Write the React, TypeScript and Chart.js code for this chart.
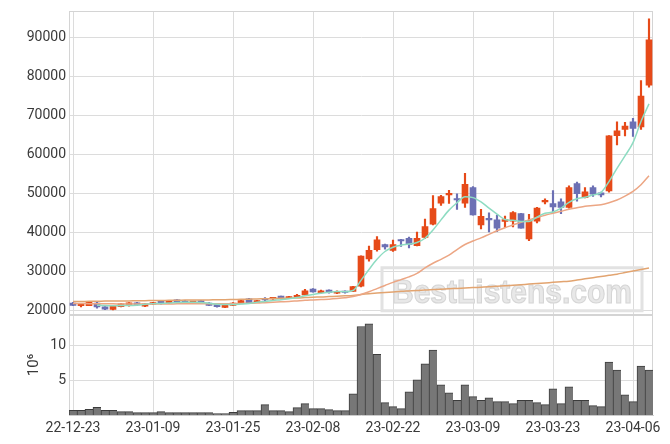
import React, { useEffect, useRef } from 'react';
import { Chart, registerables } from 'chart.js';

Chart.register(...registerables);

const dates = ['22-12-23','22-12-26','22-12-27','22-12-28','22-12-29','23-01-02','23-01-03','23-01-04','23-01-05','23-01-06','23-01-09','23-01-10','23-01-11','23-01-12','23-01-13','23-01-16','23-01-17','23-01-18','23-01-19','23-01-20','23-01-25','23-01-26','23-01-27','23-01-30','23-01-31','23-02-01','23-02-02','23-02-03','23-02-06','23-02-07','23-02-08','23-02-09','23-02-10','23-02-13','23-02-14','23-02-15','23-02-16','23-02-17','23-02-20','23-02-21','23-02-22','23-02-23','23-02-24','23-02-27','23-02-28','23-03-02','23-03-03','23-03-06','23-03-07','23-03-08','23-03-09','23-03-10','23-03-13','23-03-14','23-03-15','23-03-16','23-03-17','23-03-20','23-03-21','23-03-22','23-03-23','23-03-24','23-03-27','23-03-28','23-03-29','23-03-30','23-03-31','23-04-03','23-04-04','23-04-05','23-04-06','23-04-07','23-04-10'];

const opens = [
  22000,21300,21350,22000,21000,20350,21100,21300,22050,21200,
  21700,22300,22000,22800,22500,22100,22550,22000,21600,20850,
  21400,22050,23100,22150,23000,23050,23700,23300,23400,24100,
  25600,24650,25300,24500,25000,25000,26350,33300,35700,37000,
  35500,38200,38600,36700,38800,42200,47600,49700,48700,47600,
  51600,42000,43500,43300,42900,43000,44900,38400,43000,47900,
  47500,47900,46500,52600,49000,51600,50200,50700,64900,66500,
  68400,67100,77800];

const highs = [
  22150,21700,22400,22300,21100,21400,21900,22100,22150,21900,
  22200,22650,22600,22900,22600,22400,22600,22100,21700,21750,
  22100,22900,23200,22700,23400,23400,23800,23700,24200,25500,
  25700,25300,25400,25100,25100,26300,34100,36600,39000,37100,
  38100,38300,38900,40200,43500,49500,49600,50900,50000,55200,
  51800,46000,45100,44500,44300,45400,45000,44700,46500,48700,
  50800,48700,52000,53000,51600,52000,50400,64900,68400,68300,
  69300,79000,94800];

const lows = [
  21300,21000,21300,20700,20300,20250,21000,21200,21400,21100,
  21600,21700,21900,22250,21850,21950,21900,21300,20950,20800,
  21300,22000,21900,22100,22200,22950,23200,23200,23350,24000,
  24800,24550,24500,24400,24500,24900,26100,32700,35300,35800,
  35200,36500,36100,36600,38500,42000,47000,47500,46000,46500,
  44500,41000,40200,40300,41400,41500,41200,38000,42500,47400,
  45200,44900,46300,48100,48900,49300,49200,50400,62500,64800,
  64700,66500,77300];

const closes = [
  21400,21500,22300,21000,20400,21350,21800,22050,21500,21800,
  22100,22100,22500,22300,21900,22250,21950,21400,21100,21700,
  22000,22600,22000,22600,22800,23300,23400,23600,24000,25100,
  24850,25100,24700,25000,24700,26200,34000,35500,38200,36400,
  37000,37900,37000,38600,41600,46200,49300,50000,48400,52400,
  44600,44200,43300,41200,43400,45200,41200,43200,46300,48200,
  46600,46500,51600,50000,50500,49900,49700,64800,66100,67300,
  66700,75000,89400];

// volume in millions
const volumes = [
  0.71,0.71,0.86,1.14,0.71,0.71,0.52,0.52,0.38,0.38,
  0.38,0.52,0.38,0.38,0.38,0.38,0.38,0.38,0.24,0.24,
  0.43,0.67,0.67,0.67,1.52,0.67,0.67,0.52,1.1,1.67,
  0.95,0.95,0.81,0.67,0.67,3.1,12.8,13.2,8.8,1.81,
  1.24,0.95,3.38,5.1,7.4,9.4,4.38,3.24,2.14,4.38,
  2.67,2.14,2.52,1.95,1.95,1.67,2.14,2.14,1.81,1.52,
  3.81,1.67,4.1,2.14,2.14,1.38,1.24,7.67,6.52,2.95,
  1.95,7.1,6.52];

const ma5 = [
  null,null,null,21450,21350,21300,21350,21350,21450,21700,
  21850,21900,22000,22150,22200,22200,22150,21950,21700,21650,
  21650,21750,21900,22200,22400,22650,22850,23100,23400,23850,
  24200,24500,24750,24950,24900,25200,27800,30600,33200,35200,
  36300,36800,37100,37500,38600,40700,43300,45800,47700,49200,
  49000,47900,46300,44800,43400,43200,42900,42900,44000,45000,
  45300,46300,47800,48700,49100,49700,50300,53100,56500,59700,
  63100,68500,73000];

const ma20 = [
  21900,21900,21850,21850,21800,21800,21750,21750,21750,21750,
  21750,21750,21750,21800,21800,21800,21800,21800,21800,21800,
  21850,21900,21950,22000,22100,22200,22300,22400,22550,22700,
  22800,22900,23000,23150,23350,23650,24200,24900,25700,26500,
  27300,28000,28700,29600,31000,32200,33200,34300,35700,37000,
  37900,38700,39600,40500,41300,42000,42700,43300,43900,44500,
  45000,45500,46000,46400,46800,47000,47200,47700,48400,49400,
  50600,52300,54600];

const ma60 = [
  22400,22400,22450,22450,22500,22500,22550,22550,22600,22600,
  22650,22650,22700,22700,22750,22750,22800,22800,22850,22850,
  22900,22950,23000,23050,23100,23150,23200,23250,23300,23400,
  23500,23550,23650,23750,23850,23950,24200,24400,24550,24700,
  24850,25000,25100,25200,25350,25450,25550,25650,25750,25850,
  25950,26050,26150,26300,26400,26550,26700,26850,27000,27150,
  27300,27450,27600,27900,28200,28500,28800,29100,29400,29800,
  30200,30600,31000];

const priceTicks = [20000, 30000, 40000, 50000, 60000, 70000, 80000, 90000];
const volumeTitle = '10⁶';
const watermarkText = 'BestListens.com';

const UP = '#e64a19';
const DOWN = '#6c70b4';
const GRID = '#dcdcdc';
const TICK_FONT = { family: 'Roboto', size: 14 };
const TICK_COLOR = '#3a3a3a';

export default function App() {
  const ref = useRef<HTMLCanvasElement>(null);

  useEffect(() => {
    const canvas = ref.current;
    if (!canvas) return;
    const colors = opens.map((o, i) => (closes[i] >= o ? UP : DOWN));

    const framePlugin = {
      id: 'frameAndWatermark',
      beforeDatasetsDraw(chart: any) {
        const { ctx, chartArea, scales } = chart;
        const y = scales.y;
        const yv = scales.yv;
        ctx.save();
        // watermark
        const bx = chartArea.right - 271;
        const by = y.getPixelForValue(20000) - 43;
        const bw = 260;
        const bh = 43;
        ctx.strokeStyle = '#e2e2e2';
        ctx.lineWidth = 3;
        ctx.beginPath();
        ctx.rect(bx, by, bw, bh);
        ctx.stroke();
        ctx.font = 'bold 34px "Liberation Sans"';
        const m = ctx.measureText(watermarkText).width;
        const target = 240;
        ctx.translate(bx + 10, by + 35);
        ctx.scale(target / m, 1);
        ctx.fillStyle = '#e8e8e8';
        ctx.strokeStyle = '#d6d6d6';
        ctx.lineWidth = 1.2;
        ctx.fillText(watermarkText, 0, 0);
        ctx.strokeText(watermarkText, 0, 0);
        ctx.restore();

        ctx.save();
        ctx.strokeStyle = '#d4d4d4';
        ctx.lineWidth = 1;
        const l = Math.round(chartArea.left) + 0.5;
        const r = Math.round(chartArea.right) - 0.5;
        [y, yv].forEach((s: any) => {
          const t = Math.round(s.top) + 0.5;
          const b = Math.round(s.bottom) - 0.5;
          ctx.strokeRect(l, t, r - l, b - t);
        });
        ctx.restore();
      },
    };

    const chart = new Chart(canvas, {
      type: 'bar',
      data: {
        labels: dates,
        datasets: [
          { type: 'line', label: 'MA5', data: ma5 as any, borderColor: '#8edcc2', borderWidth: 1.5, pointRadius: 0, cubicInterpolationMode: 'monotone', yAxisID: 'y', order: 0 } as any,
          { type: 'line', label: 'MA20', data: ma20, borderColor: '#eca684', borderWidth: 1.5, pointRadius: 0, cubicInterpolationMode: 'monotone', yAxisID: 'y', order: 0 } as any,
          { type: 'line', label: 'MA60', data: ma60, borderColor: '#e2a470', borderWidth: 1.5, pointRadius: 0, cubicInterpolationMode: 'monotone', yAxisID: 'y', order: 0 } as any,
          { type: 'bar', label: 'body', data: opens.map((o, i) => [o, closes[i]]), backgroundColor: colors, barThickness: 6, minBarLength: 1.5, grouped: false, yAxisID: 'y', order: 1 } as any,
          { type: 'bar', label: 'wick', data: lows.map((lo, i) => [lo, highs[i]]), backgroundColor: colors, barThickness: 1.5, grouped: false, yAxisID: 'y', order: 2 } as any,
          { type: 'bar', label: 'volume', data: volumes, backgroundColor: '#777777', borderColor: '#3c3c3c', borderWidth: { top: 1, left: 1, right: 0, bottom: 0 }, borderSkipped: false, barPercentage: 1, categoryPercentage: 1, grouped: false, yAxisID: 'yv', order: 3 } as any,
        ],
      },
      options: {
        responsive: false,
        animation: false,
        layout: { padding: { left: 9, top: 8, right: 17, bottom: 2 } },
        plugins: { legend: { display: false }, tooltip: { enabled: false } },
        scales: {
          x: {
            type: 'category',
            offset: true,
            grid: { offset: false, color: GRID, drawTicks: false },
            border: { color: '#cfcfcf' },
            ticks: {
              autoSkip: false,
              maxRotation: 0,
              padding: 5,
              font: TICK_FONT,
              color: TICK_COLOR,
              callback: (_v: any, i: number) => (i % 10 === 0 ? dates[i] : null),
            },
          },
          yv: {
            type: 'linear',
            position: 'left',
            stack: 'panes',
            stackWeight: 1,
            min: 0,
            max: 14.5,
            grid: { color: GRID, drawTicks: false },
            border: { color: '#cfcfcf' },
            ticks: {
              stepSize: 5,
              includeBounds: false,
              padding: 3,
              font: TICK_FONT,
              color: TICK_COLOR,
              callback: (v: any) => (v === 0 ? null : String(v)),
            },
            title: { display: true, text: volumeTitle, font: { family: 'Roboto', size: 15 }, color: TICK_COLOR, padding: { top: 16, bottom: 0 } },
            afterFit: (s: any) => { s.width = 60; },
          },
          y: {
            type: 'linear',
            position: 'left',
            stack: 'panes',
            stackWeight: 3.02,
            min: 19000,
            max: 96700,
            grid: { color: GRID, drawTicks: false },
            border: { color: '#cfcfcf' },
            afterBuildTicks: (s: any) => { s.ticks = priceTicks.map((v) => ({ value: v })); },
            ticks: {
              padding: 3,
              font: TICK_FONT,
              color: TICK_COLOR,
              callback: (v: any) => String(v),
            },
            afterFit: (s: any) => { s.width = 60; },
          },
        },
      } as any,
      plugins: [framePlugin],
    });
    return () => chart.destroy();
  }, []);

  return (
    <div style={{ position: 'fixed', left: 0, top: 0, width: 670, height: 444, background: '#fff' }}>
      <canvas ref={ref} width={670} height={444} style={{ display: 'block' }} />
    </div>
  );
}
